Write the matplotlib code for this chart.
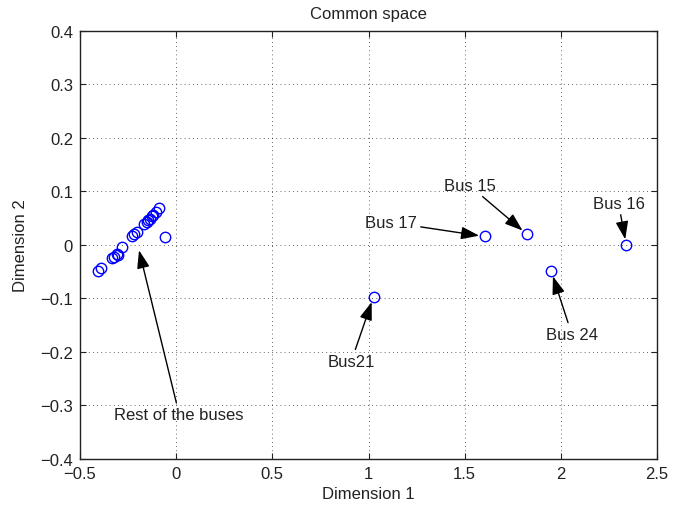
import matplotlib
matplotlib.use("Agg")
import matplotlib.pyplot as plt

plt.rcParams['font.family'] = ['Liberation Sans', 'DejaVu Sans']
plt.rcParams['axes.unicode_minus'] = True

# Cluster ("rest of the buses")
cluster_x = [-0.404, -0.39, -0.334, -0.322, -0.308, -0.282, -0.230, -0.218, -0.204,
             -0.166, -0.152, -0.135, -0.118, -0.104, -0.087, -0.057, -0.125, -0.145, -0.30]
cluster_y = [-0.049, -0.044, -0.025, -0.022, -0.017, -0.004, 0.016, 0.020, 0.024,
             0.039, 0.043, 0.049, 0.056, 0.061, 0.068, 0.014, 0.053, 0.046, -0.019]

# Labelled buses
bus_names = ["Bus 17", "Bus 15", "Bus 16", "Bus 24", "Bus21"]
bus_x = [1.604, 1.823, 2.34, 1.95, 1.026]
bus_y = [0.0156, 0.020, 0.0, -0.0487, -0.097]
text_x = [1.25, 1.525, 2.30, 2.057, 0.911]
text_y = [0.042, 0.111, 0.078, -0.167, -0.217]
text_ha = ["right", "center", "center", "center", "center"]

rest_label = "Rest of the buses"
rest_xy = (-0.20, 0.0)
rest_text = (0.016, -0.317)

xticks = [-0.5, 0, 0.5, 1, 1.5, 2, 2.5]
xticklabels = ["\u22120.5", "0", "0.5", "1", "1.5", "2", "2.5"]
yticks = [-0.4, -0.3, -0.2, -0.1, 0, 0.1, 0.2, 0.3, 0.4]
yticklabels = ["\u22120.4", "\u22120.3", "\u22120.2", "\u22120.1", "0", "0.1", "0.2", "0.3", "0.4"]

FS = 12

fig = plt.figure(figsize=(6.75, 5.06), dpi=100)
ax = fig.add_axes([80 / 675, 1 - 460 / 506, (657 - 80) / 675, (460 - 31.7) / 506])

ax.plot(cluster_x + bus_x, cluster_y + bus_y, 'o', mfc='none', mec='#0000ff',
        markersize=7.5, mew=1.0, linestyle='none')

arrow = dict(arrowstyle='-|>,head_length=1.0,head_width=0.35', color='black',
             lw=1.0, shrinkA=1, shrinkB=4, mutation_scale=11)
for name, bx, by, tx, ty, ha in zip(bus_names, bus_x, bus_y, text_x, text_y, text_ha):
    ax.annotate(name, xy=(bx, by), xytext=(tx, ty), ha=ha, va='center',
                fontsize=FS, color='#222222', arrowprops=arrow)

ax.annotate(rest_label, xy=rest_xy, xytext=rest_text,
            ha='center', va='center', fontsize=FS, color='#222222', arrowprops=arrow)

ax.set_xlim(-0.5, 2.5)
ax.set_ylim(-0.4, 0.4)
ax.set_xticks(xticks)
ax.set_xticklabels(xticklabels)
ax.set_yticks(yticks)
ax.set_yticklabels(yticklabels)
ax.tick_params(direction='in', top=True, right=True, labelsize=FS, length=4,
               colors='#222222', pad=5)
ax.grid(True, linestyle=(0, (1, 4)), color='black', linewidth=0.6, alpha=0.8)
for s in ax.spines.values():
    s.set_linewidth(1.0)
    s.set_color('#222222')

fig.text((80 + 657) / 2 / 675, 1 - 495 / 506, "Dimension 1", ha='center', va='center',
         fontsize=FS, color='#222222')
fig.text(21 / 675, 1 - ((31.7 + 460) / 2) / 506, "Dimension 2", ha='center', va='center',
         rotation=90, fontsize=FS, color='#222222')
fig.text((80 + 657) / 2 / 675, 1 - 14 / 506, "Common space", ha='center', va='center',
         fontsize=FS, color='#222222')

fig.savefig("out.png", dpi=100)
